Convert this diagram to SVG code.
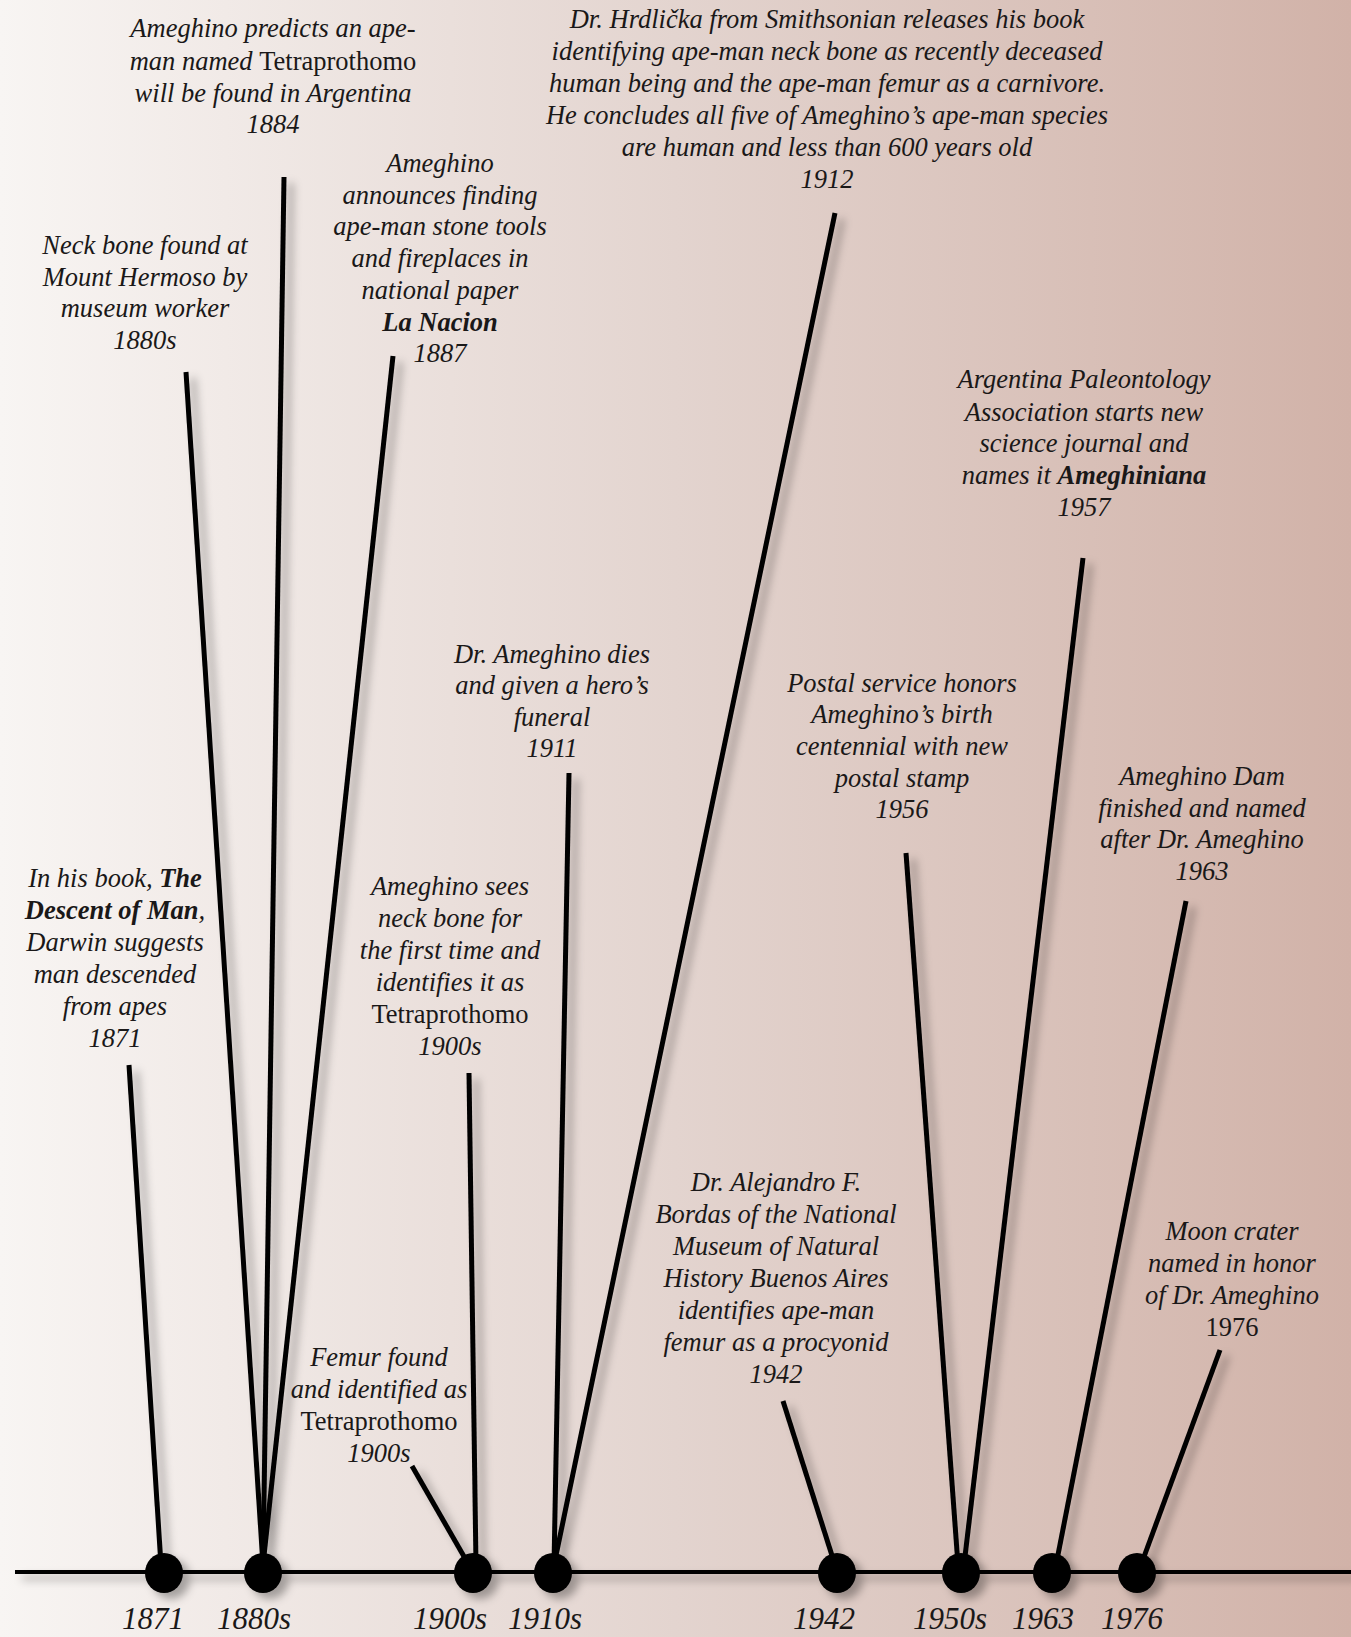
<svg xmlns="http://www.w3.org/2000/svg" width="1351" height="1637" viewBox="0 0 1351 1637">
<defs>
<linearGradient id="bg" x1="0" y1="0" x2="1" y2="0">
<stop offset="0" stop-color="#f8f5f3"/>
<stop offset="0.5" stop-color="#e3d4cf"/>
<stop offset="1" stop-color="#d1b2a8"/>
</linearGradient>
<filter id="sh" filterUnits="userSpaceOnUse" x="0" y="0" width="1351" height="1637">
<feDropShadow dx="7" dy="6" stdDeviation="4" flood-color="#000" flood-opacity="0.32"/>
</filter>
<style>
.t{font-family:"Liberation Serif","Times New Roman",serif;font-style:italic;font-size:26.5px;fill:#1a1818;text-anchor:middle}
.u{font-style:normal}
.b{font-weight:bold}
.y{font-family:"Liberation Serif","Times New Roman",serif;font-style:italic;font-size:31px;fill:#1a1818;text-anchor:middle}
.c{stroke:#000;stroke-width:5;fill:none}
.dot{fill:#000}
</style>
</defs>
<rect x="0" y="0" width="1351" height="1637" fill="url(#bg)"/>

<g id="connectors" filter="url(#sh)">
<line class="c" x1="129" y1="1065" x2="161" y2="1565"/>
<line class="c" x1="186" y1="372" x2="263" y2="1565"/>
<line class="c" x1="284" y1="177" x2="263" y2="1565"/>
<line class="c" x1="393" y1="356" x2="263" y2="1565"/>
<line class="c" x1="469" y1="1073" x2="476" y2="1565"/>
<line class="c" x1="412" y1="1466" x2="466" y2="1560"/>
<line class="c" x1="569" y1="773" x2="554" y2="1565"/>
<line class="c" x1="835" y1="213" x2="554" y2="1565"/>
<line class="c" x1="783" y1="1401" x2="835" y2="1565"/>
<line class="c" x1="906" y1="853" x2="958" y2="1565"/>
<line class="c" x1="1083" y1="558" x2="964" y2="1565"/>
<line class="c" x1="1186" y1="901" x2="1056" y2="1565"/>
<line class="c" x1="1220" y1="1350" x2="1141" y2="1565"/>
</g>

<g id="axis" filter="url(#sh)">
<line x1="15" y1="1572" x2="1351" y2="1572" stroke="#000" stroke-width="4"/>
<ellipse class="dot" cx="164" cy="1573" rx="19" ry="20"/>
<ellipse class="dot" cx="263" cy="1573" rx="19" ry="20"/>
<ellipse class="dot" cx="473" cy="1573" rx="19" ry="20"/>
<ellipse class="dot" cx="553" cy="1573" rx="19" ry="20"/>
<ellipse class="dot" cx="837" cy="1573" rx="19" ry="20"/>
<ellipse class="dot" cx="961" cy="1573" rx="19" ry="20"/>
<ellipse class="dot" cx="1052" cy="1573" rx="19" ry="20"/>
<ellipse class="dot" cx="1137" cy="1573" rx="19" ry="20"/>
</g>

<g id="axis-labels">
<text class="y" x="153" y="1629">1871</text>
<text class="y" x="254" y="1629">1880s</text>
<text class="y" x="450" y="1629">1900s</text>
<text class="y" x="545" y="1629">1910s</text>
<text class="y" x="824" y="1629">1942</text>
<text class="y" x="950" y="1629">1950s</text>
<text class="y" x="1043" y="1629">1963</text>
<text class="y" x="1132" y="1629">1976</text>
</g>

<g id="n1871">
<text class="t"><tspan x="115" y="887">In his book, <tspan class="b">The</tspan></tspan><tspan x="115" y="919"><tspan class="b">Descent of Man</tspan>,</tspan><tspan x="115" y="951">Darwin suggests</tspan><tspan x="115" y="983">man descended</tspan><tspan x="115" y="1015">from apes</tspan><tspan x="115" y="1047">1871</tspan></text>
</g>

<g id="n1880s">
<text class="t"><tspan x="145" y="254">Neck bone found at</tspan><tspan x="145" y="286">Mount Hermoso by</tspan><tspan x="145" y="317">museum worker</tspan><tspan x="145" y="349">1880s</tspan></text>
</g>

<g id="n1884">
<text class="t"><tspan x="273" y="37">Ameghino predicts an ape-</tspan><tspan x="273" y="70">man named <tspan class="u">Tetraprothomo</tspan></tspan><tspan x="273" y="102">will be found in Argentina</tspan><tspan x="273" y="133">1884</tspan></text>
</g>

<g id="n1887">
<text class="t"><tspan x="440" y="172">Ameghino</tspan><tspan x="440" y="204">announces finding</tspan><tspan x="440" y="235">ape-man stone tools</tspan><tspan x="440" y="267">and fireplaces in</tspan><tspan x="440" y="299">national paper</tspan><tspan x="440" y="331" class="b">La Nacion</tspan><tspan x="440" y="362">1887</tspan></text>
</g>

<g id="n1900s-neck">
<text class="t"><tspan x="450" y="895">Ameghino sees</tspan><tspan x="450" y="927">neck bone for</tspan><tspan x="450" y="959">the first time and</tspan><tspan x="450" y="991">identifies it as</tspan><tspan x="450" y="1023" class="u">Tetraprothomo</tspan><tspan x="450" y="1055">1900s</tspan></text>
</g>

<g id="n1900s-femur">
<text class="t"><tspan x="379" y="1366">Femur found</tspan><tspan x="379" y="1398">and identified as</tspan><tspan x="379" y="1430" class="u">Tetraprothomo</tspan><tspan x="379" y="1462">1900s</tspan></text>
</g>

<g id="n1911">
<text class="t"><tspan x="552" y="663">Dr. Ameghino dies</tspan><tspan x="552" y="694">and given a hero’s</tspan><tspan x="552" y="726">funeral</tspan><tspan x="552" y="757">1911</tspan></text>
</g>

<g id="n1912">
<text class="t"><tspan x="827" y="28">Dr. Hrdlička from Smithsonian releases his book</tspan><tspan x="827" y="60">identifying ape-man neck bone as recently deceased</tspan><tspan x="827" y="92">human being and the ape-man femur as a carnivore.</tspan><tspan x="827" y="124">He concludes all five of Ameghino’s ape-man species</tspan><tspan x="827" y="156">are human and less than 600 years old</tspan><tspan x="827" y="188">1912</tspan></text>
</g>

<g id="n1942">
<text class="t"><tspan x="776" y="1191">Dr. Alejandro F.</tspan><tspan x="776" y="1223">Bordas of the National</tspan><tspan x="776" y="1255">Museum of Natural</tspan><tspan x="776" y="1287">History Buenos Aires</tspan><tspan x="776" y="1319">identifies ape-man</tspan><tspan x="776" y="1351">femur as a procyonid</tspan><tspan x="776" y="1383">1942</tspan></text>
</g>

<g id="n1956">
<text class="t"><tspan x="902" y="692">Postal service honors</tspan><tspan x="902" y="723">Ameghino’s birth</tspan><tspan x="902" y="755">centennial with new</tspan><tspan x="902" y="787">postal stamp</tspan><tspan x="902" y="818">1956</tspan></text>
</g>

<g id="n1957">
<text class="t"><tspan x="1084" y="388">Argentina Paleontology</tspan><tspan x="1084" y="421">Association starts new</tspan><tspan x="1084" y="452">science journal and</tspan><tspan x="1084" y="484">names it <tspan class="b">Ameghiniana</tspan></tspan><tspan x="1084" y="516">1957</tspan></text>
</g>

<g id="n1963">
<text class="t"><tspan x="1202" y="785">Ameghino Dam</tspan><tspan x="1202" y="817">finished and named</tspan><tspan x="1202" y="848">after Dr. Ameghino</tspan><tspan x="1202" y="880">1963</tspan></text>
</g>

<g id="n1976">
<text class="t"><tspan x="1232" y="1240">Moon crater</tspan><tspan x="1232" y="1272">named in honor</tspan><tspan x="1232" y="1304">of Dr. Ameghino</tspan><tspan x="1232" y="1336" class="u">1976</tspan></text>
</g>
</svg>
